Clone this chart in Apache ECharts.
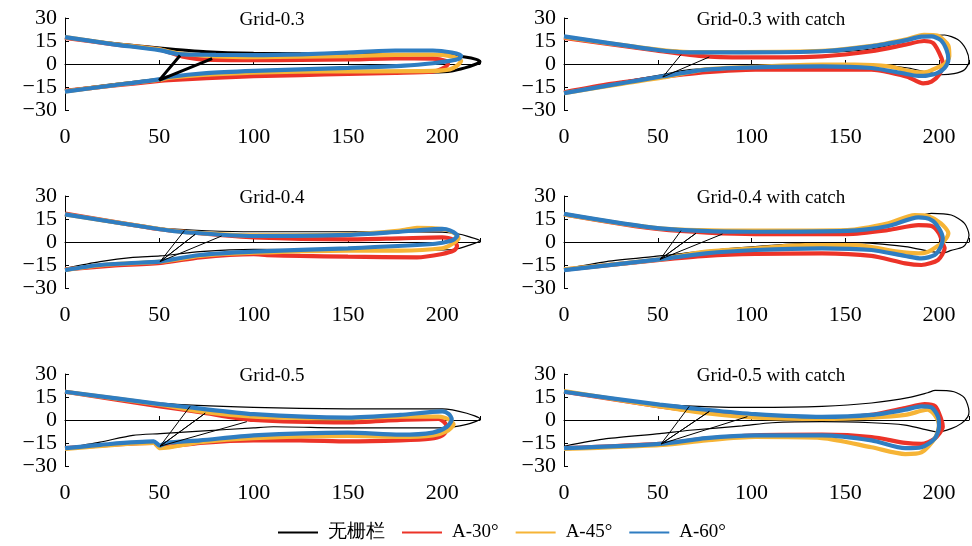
<!DOCTYPE html>
<html>
<head>
<meta charset="utf-8">
<script src="https://cdn.jsdelivr.net/npm/echarts@6/dist/echarts.min.js"></script>
<style>
  html, body, #main { width: 100%; height: 100%; margin: 0; background: #fff; }
</style>
</head>
<body>
<div id="main"></div>
<script>
// panel titles and legend names
var titles = ['Grid-0.3', 'Grid-0.3 with catch', 'Grid-0.4', 'Grid-0.4 with catch', 'Grid-0.5', 'Grid-0.5 with catch'];
var names = ['无栅栏', 'A-30°', 'A-45°', 'A-60°'];
var xLabels = [0, 50, 100, 150, 200];
var yLabels = [-30, -15, 0, 15, 30];

// ---- Grid-0.3 ----
var g03_none = [[0,17.5],[25,13.5],[50,10.5],[75,8],[100,7],[150,6.5],[200,6],[212,4.5],[218,3],[220,1.5],[218,0],[212,-2.5],[205,-4.5],[195,-5.2],[150,-5.5],[100,-6],[75,-7],[50,-10],[25,-13.5],[0,-17.5]];
var g03_a30 = [[0,17],[25,13],[50,9.5],[62,5],[75,2.8],[100,2.5],[125,2.6],[150,3],[175,3.6],[195,3.5],[202,2],[203,0],[200,-3],[195,-5],[175,-5.8],[150,-6.5],[125,-7.2],[100,-8],[75,-9.3],[55,-10.5],[50,-11],[25,-14.2],[0,-17.5]];
var g03_a45 = [[0,17.5],[25,13.2],[50,9.5],[60,7],[80,5],[100,4.5],[125,4.8],[150,5.2],[175,6],[195,6.2],[205,5],[210,2],[208,-1],[204,-3.5],[195,-4.5],[150,-4.8],[125,-5],[100,-5.6],[75,-7],[55,-9],[50,-10.3],[25,-14],[0,-17.8]];
var g03_a60 = [[0,17.5],[25,13],[50,9],[60,6.5],[80,6],[100,5.8],[125,6.3],[150,7.5],[175,8.8],[195,8.8],[205,7.5],[210,5.5],[209,3.5],[204,2],[195,0.5],[180,-1],[150,-2.5],[125,-3.5],[100,-4.5],[75,-6],[55,-8.5],[50,-10],[25,-14],[0,-18]];
var g03_bars = [[61,5.5],[50,-10.5],[78,3.5]];

// ---- Grid-0.3 with catch ----
var g03c_none = [[0,17.6],[49,9.8],[95,7.8],[137,7.6],[164,9.8],[182,14.8],[194,18.5],[203,18.9],[210,15.9],[214.5,9.3],[216,1.7],[213.6,-3.7],[208,-6.3],[201,-7],[194,-5.4],[183.5,-2.6],[169,-0.9],[146,-0.2],[120,-0.4],[95,-1.5],[67,-3.7],[52,-7],[31.5,-11.3],[0,-17.8]];
var g03c_a30 = [[0,17],[49,8.9],[75.7,5],[102,4.3],[137.6,5],[164,8.3],[182,12.6],[192,15],[197,13.5],[201.4,3.7],[202,-0.7],[200,-7],[196,-11.5],[191.5,-12.6],[183,-8.3],[164,-3.7],[137.6,-3.7],[102,-3.7],[75.7,-5.4],[52.7,-8.5],[25,-13],[0,-18.5]];
var g03c_a45 = [[0,17.5],[49,9.5],[67,7.8],[95,7.8],[137.6,8.5],[164,11.8],[182,16],[192,19],[199,18.5],[205,12],[205.5,5],[203,0],[198.8,-2.5],[194,-5],[189,-5.4],[173,-1.5],[155,-0.4],[137.6,-0.4],[102,-1.8],[75.7,-3.5],[52.7,-8.8],[31.5,-12.8],[0,-19]];
var g03c_a60 = [[0,18],[49,9.3],[67,7.6],[95,7.6],[137.6,8.3],[164,11.5],[182,15.4],[190.6,17.8],[196,18],[201,15.5],[204,9.3],[205,3],[203,-2.5],[199,-6],[193.5,-7.6],[189,-7.8],[180,-5.9],[164,-2.6],[137.6,-1.5],[102,-2.2],[75.7,-3.7],[52.7,-8],[31.5,-12.4],[0,-19]];
var g03c_bars = [[62.4,6.1],[52.7,-8.5],[77.5,4.6]];

// ---- Grid-0.4 ----
var g04_none = [[0,17.6],[50,9],[100,6.7],[150,6.7],[200,6.5],[208,5.4],[214,3.5],[220,0.8],[214,-2.2],[208,-4.4],[200,-5.2],[150,-5],[100,-4.8],[71.6,-6.3],[50.4,-9.1],[36,-10],[18.6,-12.8],[0,-17.2]];
var g04_a30 = [[0,18.5],[50.4,8.3],[71.6,5.7],[100,3],[150,1.7],[177.7,2.4],[200,3],[206,1.3],[207.8,-3],[206,-5.7],[200,-7.8],[186.6,-10],[150,-9.6],[124.7,-9.1],[107,-8.5],[100,-8],[71.6,-10],[52,-13.5],[25,-15.5],[0,-17.8]];
var g04_a45 = [[0,18],[50.4,8.5],[64.5,6.5],[100,4.3],[150,5],[177.7,7.5],[186.6,9.3],[200,8.5],[206,6],[208.7,2.4],[205,-1.5],[200,-4.1],[177.7,-5.6],[150,-5.6],[100,-7],[71.6,-9],[52,-12.6],[18.6,-15.2],[0,-18.2]];
var g04_a60 = [[0,18],[50.4,8.3],[64.5,6.3],[100,3.9],[150,4.6],[177.7,6.7],[200,8.5],[204,7.6],[208,4.3],[206,1.5],[202.5,0.2],[195,-1.3],[150,-4.1],[100,-6.3],[71.6,-8.5],[52,-12.4],[50.4,-12.8],[18.6,-15],[0,-18.3]];
var g04_bars = [[63.3,7.4],[50.4,-12.8],[69,5],[50.4,-12.8],[83,3.9]];

// ---- Grid-0.4 with catch ----
var g04c_none = [[0,18.3],[51,9.6],[102,7.8],[151,8.3],[173,11],[187,16],[196,18.7],[206.5,17.6],[213.6,12.2],[216,4.6],[215,0.2],[212.7,-3.3],[206.5,-5.5],[202,-7.2],[196,-6.3],[182,-3],[155,-0.4],[128.7,-0.9],[102,-3],[75.7,-5.7],[51,-9.1],[22.6,-12.8],[0,-17.8]];
var g04c_a30 = [[0,18],[51,8.3],[102,5.2],[151,5.2],[173,7.8],[189,11],[196,10.4],[200,5.7],[202,-0.9],[203,-4.1],[199.5,-11.7],[190.6,-15],[182,-13.9],[164,-9.1],[137.6,-7.4],[102,-7.8],[75.7,-9.1],[51,-11.7],[0,-18]];
var g04c_a45 = [[0,18],[51,8.9],[102,7.4],[151,7.8],[173,12.2],[187,17.6],[194,17],[201,12.2],[205,5.7],[203,1],[199.5,-2.5],[194,-6.5],[189,-7.4],[178,-6.3],[155,-2],[128.7,-2],[102,-4.1],[75.7,-6.3],[51,-11.3],[0,-17.8]];
var g04c_a60 = [[0,18.3],[51,8.9],[102,6.7],[151,7.2],[173,10.4],[189,16],[196,14.3],[200,8.9],[202,2.4],[201,-3],[197.7,-8.5],[190.6,-10.7],[182,-9.1],[164,-5.2],[137.6,-4.1],[102,-5.2],[75.7,-7.4],[51,-11.3],[0,-18.3]];
var g04c_bars = [[62.4,7.4],[51.3,-11.3],[70.4,5.7],[51.3,-11.3],[84.5,5.2]];

// ---- Grid-0.5 ----
var g05_none = [[0,18.4],[50.4,11],[100,8.2],[150,7.3],[200,7.3],[213,4.4],[220,0.7],[213,-2.9],[200,-5.1],[150,-5.1],[110.5,-4.4],[100,-5.1],[71.6,-7.3],[50.4,-8.9],[36,-10],[18.6,-14.4],[0,-18.4]];
var g05_a30 = [[0,18.4],[50.4,8.9],[71.6,5.1],[100,0],[150,-1.6],[177.7,0],[198,0.7],[201.6,-2.2],[202.5,-6],[200,-10],[193.6,-12.2],[177.7,-13.3],[150,-14],[124.7,-13.3],[100,-13.3],[71.6,-14.9],[50.4,-17.8],[47,-15],[0,-18.4]];
var g05_a45 = [[0,18.4],[50.4,10],[71.6,5.6],[100,2.2],[150,1.1],[177.7,2.2],[198,2.2],[204,0],[206,-2.9],[202.5,-7.3],[195,-10],[177.7,-11],[150,-10.4],[100,-11.8],[71.6,-14.4],[50.4,-18.4],[47,-14.9],[0,-18.9]];
var g05_a60 = [[0,18.4],[50.4,10.4],[66.3,8.2],[100,3.8],[150,1.6],[177.7,3.3],[200,5.6],[203.5,3.8],[205,0.4],[202.5,-4.4],[195,-8.2],[177.7,-9.6],[150,-8.2],[100,-10],[71.6,-13.3],[54,-14.9],[50.4,-16.7],[47,-14],[18.6,-16.2],[0,-18.4]];
var g05_bars = [[66.3,8.9],[50.4,-17.1],[74.3,4.4],[50.4,-17.1],[96.4,-1.1]];

// ---- Grid-0.5 with catch ----
var g05c_none = [[0,18.4],[51,10.4],[102,8.2],[137.6,8.9],[164,11.1],[185,14.9],[194,17.8],[198,19.3],[208,18.4],[213.6,14.4],[216,5.6],[215.4,2.2],[212,-2.2],[206.5,-5.6],[199.5,-7.8],[190.6,-5.6],[182,-3.3],[164,-1.8],[137.6,-1.1],[111,-1.8],[95,-3.8],[67,-6.7],[51,-8.9],[22.6,-12.2],[0,-17.1]];
var g05c_a30 = [[0,18.4],[51,8.9],[75.7,5.1],[102,2.2],[137.6,1.1],[164,3.3],[182,7.8],[192.4,10.4],[198,8.9],[201,1.1],[202,-4.4],[197.7,-12.2],[190.6,-15.6],[182,-14.9],[164,-11.1],[137.6,-9.6],[102,-10],[75.7,-12.2],[51,-15.6],[0,-18.4]];
var g05c_a45 = [[0,18.9],[51,8.9],[75.7,4.4],[102,1.6],[137.6,0.7],[164,1.6],[182,3.3],[190.6,6],[194,6.7],[197.7,3.3],[200,-3.3],[197.7,-12.2],[190.6,-21.1],[182,-22.2],[164,-17.8],[137.6,-11.8],[102,-11.1],[75.7,-13.3],[52.7,-16.2],[0,-18.9]];
var g05c_a60 = [[0,18.4],[51,10],[75.7,6.7],[102,3.8],[137.6,2],[164,3.3],[182,6.7],[190.6,8.9],[196,8.2],[199.5,2.2],[200,-4.4],[197.7,-12.2],[190.6,-17.8],[182,-18.4],[164,-13.3],[137.6,-10],[102,-10],[75.7,-11.8],[51,-15.6],[0,-18.4]];
var g05c_bars = [[66.8,8.9],[51.8,-15.6],[77.5,5.6],[51.8,-15.6],[97.8,2.2]];

var panels = [
  [g03_none, g03_a30, g03_a45, g03_a60, g03_bars],
  [g03c_none, g03c_a30, g03c_a45, g03c_a60, g03c_bars],
  [g04_none, g04_a30, g04_a45, g04_a60, g04_bars],
  [g04c_none, g04c_a30, g04c_a45, g04c_a60, g04c_bars],
  [g05_none, g05_a30, g05_a45, g05_a60, g05_bars],
  [g05c_none, g05c_a30, g05c_a45, g05c_a60, g05c_bars]
];

var colors = ['#000000', '#EC3328', '#F6B436', '#2F7DC1'];
var font = 'Liberation Serif';
var lefts = [65, 564];
var tops = [18, 196, 374];
// the right column is cut off by the picture edge
var xMax = [220, 216];
var widths = [415, 407];

var grids = [], xAxes = [], yAxes = [], series = [], graphics = [];
panels.forEach(function (p, i) {
  var col = i % 2, row = Math.floor(i / 2);
  grids.push({ left: lefts[col], top: tops[row], width: widths[col], height: 92 });
  // axis line through y = 0
  xAxes.push({
    type: 'value', gridIndex: i, min: 0, max: xMax[col], interval: 50,
    axisLine: { onZero: true, lineStyle: { color: '#000', width: 1 } },
    axisTick: { inside: true, length: 4, lineStyle: { color: '#000' } },
    axisLabel: { show: false }, splitLine: { show: false }
  });
  // tick labels along the bottom
  xAxes.push({
    type: 'value', gridIndex: i, min: 0, max: xMax[col], interval: 50, position: 'bottom',
    axisLine: { show: false, onZero: false }, axisTick: { show: false }, splitLine: { show: false },
    axisLabel: {
      margin: 16, color: '#000', fontFamily: font, fontSize: 22,
      formatter: function (v) { return xLabels.indexOf(v) >= 0 ? String(v) : ''; }
    }
  });
  yAxes.push({
    type: 'value', gridIndex: i, min: -30, max: 30, interval: 15,
    axisLine: { show: true, lineStyle: { color: '#000', width: 1 } },
    axisTick: { show: true, inside: true, length: 4, lineStyle: { color: '#000' } },
    splitLine: { show: false },
    axisLabel: {
      margin: 8, color: '#000', fontFamily: font, fontSize: 22,
      formatter: function (v) { return yLabels.indexOf(v) >= 0 ? String(v).replace('-', '\u2212') : ''; }
    }
  });
  for (var k = 0; k < 4; k++) {
    series.push({
      type: 'line', name: names[k], xAxisIndex: 2 * i, yAxisIndex: i,
      data: p[k], symbol: 'none', smooth: 0.25, z: 2 + k,
      lineStyle: { color: colors[k], width: k === 0 ? (i === 0 ? 3 : 1.2) : 4.2 },
      itemStyle: { color: colors[k] }
    });
  }
  series.push({
    type: 'line', name: '栅栏', xAxisIndex: 2 * i, yAxisIndex: i,
    data: p[4], symbol: 'none', z: 10,
    lineStyle: { color: '#000', width: i === 0 ? 3 : 1 }
  });
  graphics.push({
    type: 'text', x: lefts[col] + 207, y: tops[row] + 2,
    style: { text: titles[i], font: '19px "' + font + '"', fill: '#000', textAlign: 'center', textVerticalAlign: 'middle' }
  });
});

var chart = echarts.init(document.getElementById('main'));
chart.setOption({
  animation: false,
  grid: grids, xAxis: xAxes, yAxis: yAxes, series: series,
  graphic: graphics,
  legend: {
    data: names, top: 518, left: 273, itemWidth: 40, itemHeight: 12, itemGap: 17,
    icon: 'path://M0,5 L40,5 L40,7 L0,7 Z',
    textStyle: { fontFamily: font, fontSize: 19, color: '#000', padding: [0, 0, 0, 5] }
  }
});
window.onresize = chart.resize;
</script>
</body>
</html>
